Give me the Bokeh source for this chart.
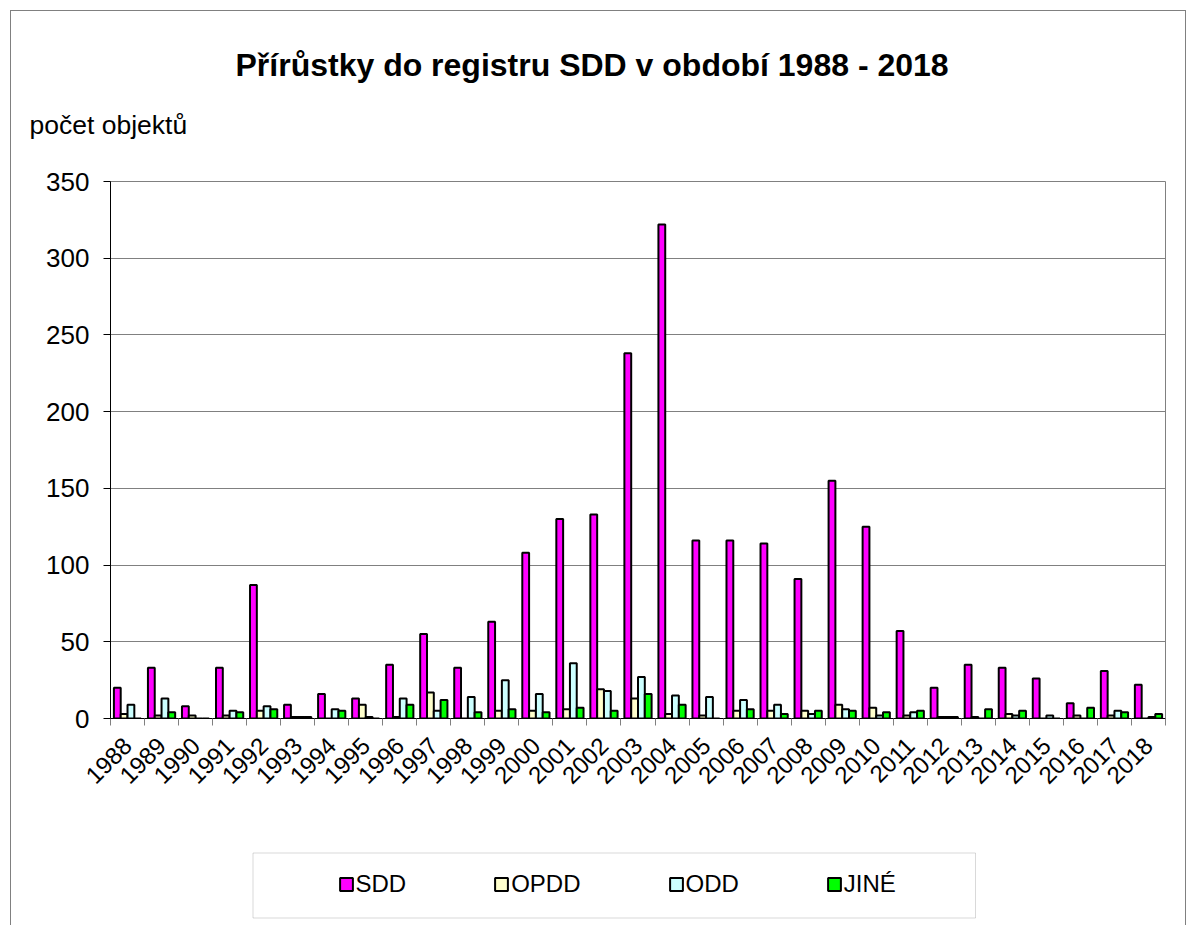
import math
from bokeh.plotting import figure
from bokeh.layouts import column
from bokeh.models import (ColumnDataSource, Range1d, FixedTicker, Legend,
                          LegendItem, BoxAnnotation, Title)
from bokeh.transform import dodge
from bokeh.embed import file_html
from bokeh.resources import INLINE

years = list(range(1988, 2019))
sdd = [20, 33, 8, 33, 87, 9, 16, 13, 35, 55, 33, 63, 108, 130, 133, 238, 322,
       116, 116, 114, 91, 155, 125, 57, 20, 35, 33, 26, 10, 31, 22]
opdd = [3, 2, 2, 2, 5, 1, 0, 9, 1, 17, 0, 5, 5, 6, 19, 13, 3,
        2, 5, 5, 5, 9, 7, 2, 1, 1, 3, 0, 2, 2, 0]
odd = [9, 13, 0, 5, 8, 1, 6, 1, 13, 5, 14, 25, 16, 36, 18, 27, 15,
       14, 12, 9, 3, 6, 2, 4, 1, 0, 2, 2, 0, 5, 1]
jine = [0, 4, 0, 4, 6, 1, 5, 0, 9, 12, 4, 6, 4, 7, 5, 16, 9,
        0, 6, 3, 5, 5, 4, 5, 1, 6, 5, 0, 7, 4, 3]
series_labels = ["SDD", "OPDD", "ODD", "JINÉ"]
series_cols = ["SDD", "OPDD", "ODD", "JINE"]
colors = ["#FF00FF", "#FFFFCC", "#CCFFFF", "#00FF00"]
y_ticks = [0, 50, 100, 150, 200, 250, 300, 350]
title_text = "Přírůstky do registru SDD v období 1988 - 2018"
ylabel_text = "počet objektů"

FONT = "Liberation Sans"
W = 1188
BORDER = "#808080"
FRAME_L, FRAME_R, FRAME_T, FRAME_B = 110, 1165, 181, 718
MAIN_H = 800
LEG_H = 125

n = len(years)
xc = [i + 0.5 for i in range(n)]
source = ColumnDataSource(dict(x=xc, SDD=sdd, OPDD=opdd, ODD=odd, JINE=jine))

# ---------- main chart ----------
p = figure(width=W, height=MAIN_H, x_range=Range1d(0, n), y_range=Range1d(0, 350),
           output_backend="svg", toolbar_location=None,
           min_border_left=FRAME_L, min_border_right=W - FRAME_R,
           min_border_top=FRAME_T, min_border_bottom=MAIN_H - FRAME_B)
p.title.text = ""
p.background_fill_color = "white"
p.border_fill_alpha = 0
p.outline_line_color = BORDER
p.outline_line_width = 1

offsets = [-0.3, -0.1, 0.1, 0.3]
for col, c, off in zip(series_cols, colors, offsets):
    p.vbar(x=dodge("x", off), top=col, width=0.2, source=source,
           fill_color=c, line_color="black", line_width=2)

p.xgrid.visible = False
p.ygrid.ticker = FixedTicker(ticks=y_ticks)
p.ygrid.grid_line_color = BORDER
p.ygrid.grid_line_width = 1

ya = p.yaxis[0]
ya.ticker = FixedTicker(ticks=y_ticks)
ya.axis_line_color = "black"
ya.major_tick_line_color = "black"
ya.major_tick_out = 7
ya.major_tick_in = 0
ya.minor_tick_line_color = None
ya.major_label_text_font = FONT
ya.major_label_text_font_size = "26px"
ya.major_label_text_color = "black"
ya.major_label_standoff = 14

xa = p.xaxis[0]
xa.ticker = FixedTicker(ticks=xc, minor_ticks=list(range(n + 1)))
xa.major_label_overrides = {x: str(y) for x, y in zip(xc, years)}
xa.major_tick_line_color = None
xa.major_tick_out = 6
xa.major_tick_in = 0
xa.minor_tick_line_color = BORDER
xa.minor_tick_out = 7
xa.minor_tick_in = 0
xa.axis_line_color = "black"
xa.major_label_orientation = math.pi / 4
xa.major_label_text_font = FONT
xa.major_label_text_font_size = "24px"
xa.major_label_text_color = "black"
xa.major_label_standoff = 16

# titles in the panel above the frame
p.add_layout(Title(text=ylabel_text, align="left", offset=29 - FRAME_L,
                   text_font=FONT, text_font_size="26.5px", text_font_style="normal",
                   text_color="black", standoff=84), "above")
p.add_layout(Title(text=title_text, align="left", offset=235 - FRAME_L,
                   text_font=FONT, text_font_size="32px", text_font_style="bold",
                   text_color="black", standoff=-34), "above")

# ---------- legend ----------
leg = figure(width=W, height=LEG_H, x_range=Range1d(0, n), y_range=Range1d(0, 350),
             x_axis_type=None, y_axis_type=None, output_backend="svg",
             toolbar_location=None, min_border=0)
leg.title.text = ""
leg.outline_line_color = None
leg.background_fill_alpha = 0
leg.border_fill_alpha = 0
leg.grid.visible = False
leg_renderers = []
for col, c, off in zip(series_cols, colors, offsets):
    r = leg.vbar(x=dodge("x", off), top=col, width=0.2, source=source,
                 fill_color=c, line_color="black", line_width=2)
    r.visible = False
    leg_renderers.append(r)
leg_top_page = MAIN_H
leg.add_layout(BoxAnnotation(left=252.5 - FRAME_L, right=975 - FRAME_L,
                             top=leg_top_page + LEG_H - 852.5,
                             bottom=leg_top_page + LEG_H - 917.5,
                             left_units="screen", right_units="screen",
                             top_units="screen", bottom_units="screen",
                             fill_color=None, line_color=BORDER, line_width=1))
legend = Legend(items=[LegendItem(label=l, renderers=[r])
                       for l, r in zip(series_labels, leg_renderers)],
                orientation="horizontal",
                location=(337.5 - FRAME_L, leg_top_page + LEG_H - 898),
                glyph_width=16, glyph_height=16, label_standoff=2, spacing=87,
                padding=0, margin=0, border_line_color=None,
                background_fill_alpha=0, inactive_fill_alpha=0,
                label_text_font=FONT, label_text_font_size="24px",
                label_text_color="black")
leg.add_layout(legend, "center")

grad = "linear-gradient(#808080,#808080)"
layout = column(p, leg, spacing=0, styles={
    "background": (f"{grad} 10px 10px / 1px 2000px no-repeat, "
                   f"{grad} 1185px 10px / 1px 2000px no-repeat, "
                   f"{grad} 10px 10px / 1176px 1px no-repeat, white")})

open("out.html", "w").write(file_html(layout, INLINE))
